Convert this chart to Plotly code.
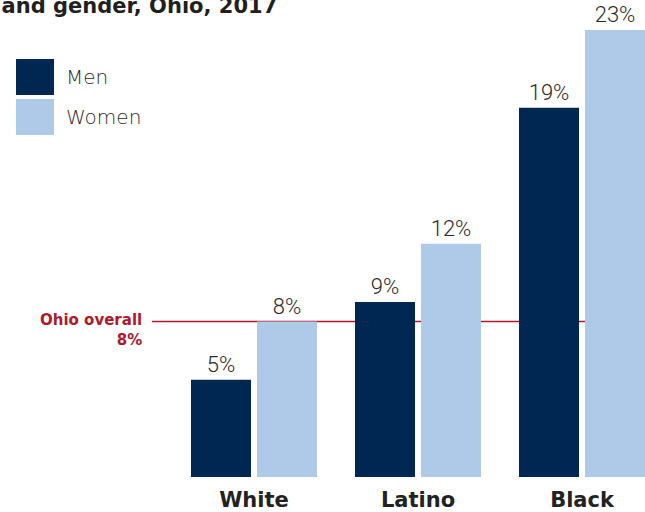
import plotly.graph_objects as go

# ---- data ----
categories = ["White", "Latino", "Black"]
men = [5, 9, 19]
women = [8, 12, 23]
series_names = ["Men", "Women"]
ohio_overall = 8
title_text = "Unemployment rate by race and gender, Ohio, 2017"

MEN_COLOR = "#002652"
WOMEN_COLOR = "#afc9e9"
LINE_COLOR = "#b0182e"
TEXT = "#2b2b2b"

fig = go.Figure()
for name, vals, col in [(series_names[0], men, MEN_COLOR), (series_names[1], women, WOMEN_COLOR)]:
    fig.add_trace(go.Bar(
        x=categories, y=vals, name=name, marker=dict(color=col, line=dict(width=0)),
        text=[f"{v}%" for v in vals], textposition="outside", cliponaxis=False,
        textfont=dict(family="Roboto", size=22, color=TEXT, weight=300),
        constraintext="none", showlegend=False,
    ))

fig.add_shape(type="line", xref="paper", yref="y", x0=0.004, x1=1,
              y0=ohio_overall, y1=ohio_overall, layer="below",
              line=dict(color=LINE_COLOR, width=1.5))
fig.add_annotation(xref="paper", yref="y", x=0, y=ohio_overall - 0.45, xanchor="right",
                   yanchor="middle", xshift=-6, align="right", showarrow=False,
                   text=f"Ohio overall<br>{ohio_overall}%",
                   font=dict(family="DejaVu Sans", size=15, color=LINE_COLOR, weight="bold"))

# legend drawn as boxes + labels
legend_items = [(series_names[0], MEN_COLOR), (series_names[1], WOMEN_COLOR)]
for i, (name, col) in enumerate(legend_items):
    top = 59 + i * 40
    fig.add_shape(type="rect", xref="paper", yref="paper",
                  x0=(16 - 150) / 495, x1=(54 - 150) / 495,
                  y0=(477 - top) / 447, y1=(477 - top - 36) / 447,
                  fillcolor=col, line=dict(width=0))
    fig.add_annotation(xref="paper", yref="paper", x=(64 - 150) / 495,
                       y=(477 - top - 18) / 447, xanchor="left", yanchor="middle",
                       showarrow=False, text=name,
                       font=dict(family="DejaVu Sans", size=20, color=TEXT, weight=300))

fig.add_annotation(xref="paper", yref="paper", x=(279 - 150) / 495, y=1 + 10 / 447,
                   xanchor="right", yanchor="bottom", showarrow=False, text=title_text,
                   font=dict(family="DejaVu Sans", size=21, color="#231f20", weight="bold"))

fig.update_layout(
    width=645, height=512, margin=dict(l=150, r=0, t=30, b=35, autoexpand=False),
    plot_bgcolor="white", paper_bgcolor="white",
    barmode="group", bargap=0.195, bargroupgap=0.0909,
    xaxis=dict(range=[-0.634, 2.384], showgrid=False, showline=False, zeroline=False,
               ticks="outside", ticklen=0, ticklabelstandoff=4, automargin=False,
               tickfont=dict(family="DejaVu Sans", size=21, color="#222222", weight="bold")),
    yaxis=dict(range=[0, 23], showgrid=False, showline=False, zeroline=False,
               showticklabels=False, ticks="", automargin=False),
)

fig.write_html("out.html")
